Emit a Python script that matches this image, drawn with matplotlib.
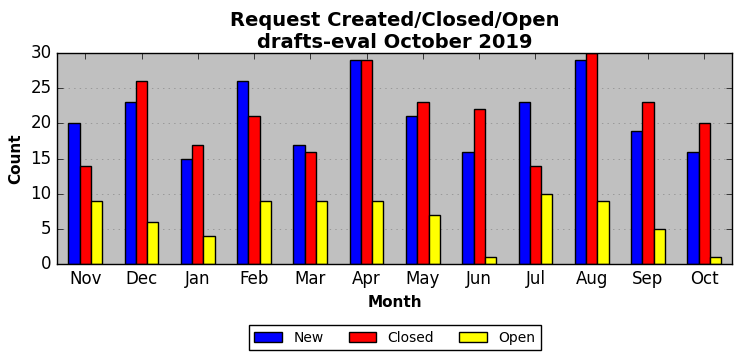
import numpy as np
import matplotlib.pyplot as plt

plt.style.use('classic')

months = ['Nov', 'Dec', 'Jan', 'Feb', 'Mar', 'Apr', 'May', 'Jun', 'Jul', 'Aug', 'Sep', 'Oct']
new_counts = [20, 23, 15, 26, 17, 29, 21, 16, 23, 29, 19, 16]
closed_counts = [14, 26, 17, 21, 16, 29, 23, 22, 14, 30, 23, 20]
open_counts = [9, 6, 4, 9, 9, 9, 7, 1, 10, 9, 5, 1]

fig = plt.figure(figsize=(7.42, 3.61), dpi=100, facecolor='white')
ax = fig.add_axes([0.077, 0.268, 0.910, 0.585])
ax.set_facecolor('#c0c0c0')

x = np.arange(len(months))
w = 0.2
ax.bar(x - w, new_counts, w, color='blue', edgecolor='black', label='New', align='center')
ax.bar(x, closed_counts, w, color='red', edgecolor='black', label='Closed', align='center')
ax.bar(x + w, open_counts, w, color='yellow', edgecolor='black', label='Open', align='center')

ax.set_xlim(-0.5, 11.5)
ax.set_ylim(0, 30)
ax.set_xticks(x)
ax.set_xticklabels(months, fontsize=12)
ax.set_yticks(range(0, 31, 5))
ax.tick_params(axis='y', labelsize=12)
ax.yaxis.grid(True, linestyle=':', color='#888888')
ax.set_axisbelow(True)

ax.set_xlabel('Month', fontsize=11, fontweight='bold')
ax.set_ylabel('Count', fontsize=11, fontweight='bold')
ax.set_title('Request Created/Closed/Open\ndrafts-eval October 2019', fontsize=14, fontweight='bold', y=0.99)

ax.legend(loc='upper center', bbox_to_anchor=(0.5, -0.255), ncol=3, fontsize=10,
          frameon=True, columnspacing=1.8)

fig.savefig('out.png', dpi=100, facecolor='white')
